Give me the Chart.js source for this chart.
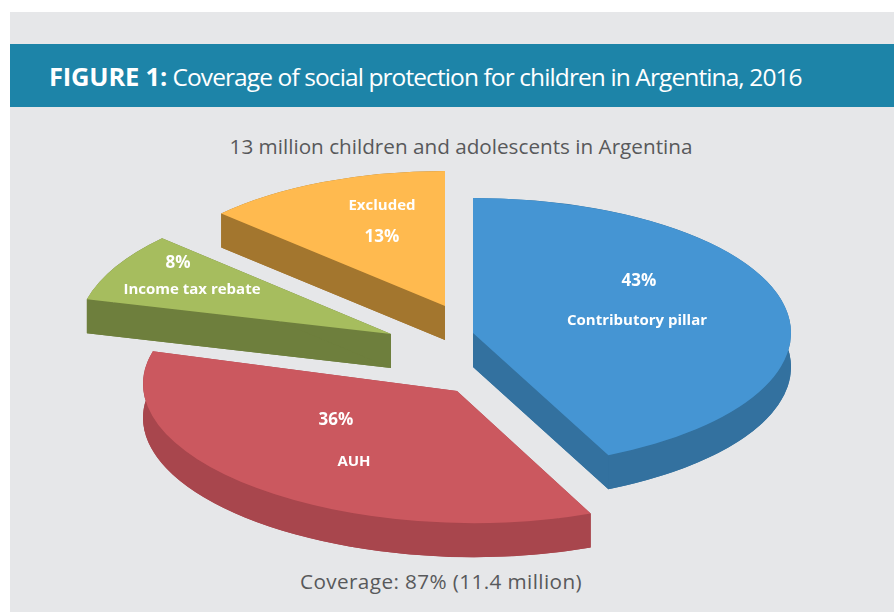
<!DOCTYPE html>
<html>
<head>
<meta charset="utf-8">
<title>Coverage of social protection for children in Argentina, 2016</title>
<script src="https://cdn.jsdelivr.net/npm/chart.js@4"></script>
<style>
  html, body { margin: 0; padding: 0; background: #fff; overflow: hidden; }
  #panel { position: absolute; left: 10px; top: 12px; width: 884px; height: 600px; background: #e6e7e9; }
  #band { position: absolute; left: 10px; top: 44px; width: 884px; height: 63px; background: #1d84a8; color: #fff;
    font: 24.5px "Open Sans", sans-serif; line-height: 65px; letter-spacing: -0.9px; white-space: nowrap; }
  #band span { position: absolute; left: 39px; top: 0; }
  #band b { font-weight: 700; font-size: 25.5px; letter-spacing: -0.2px; }
  .note { position: absolute; color: #58595b; font: 20.7px "Open Sans", sans-serif; white-space: nowrap; transform: translateX(-50%); }
  #canvasBox { position: absolute; left: 0; top: 0; width: 894px; height: 612px; }
</style>
</head>
<body>
<div id="panel"></div>
<div id="band"><span><b>FIGURE 1:</b> Coverage of social protection for children in Argentina, 2016</span></div>
<div class="note" style="left:461px;top:132px">13 million children and adolescents in Argentina</div>
<div class="note" style="left:441px;top:567px;letter-spacing:0.4px">Coverage: 87% (11.4 million)</div>
<div id="canvasBox"><canvas id="pie"></canvas></div>

<script>
const categories = ['Contributory pillar', 'AUH', 'Income tax rebate', 'Excluded'];
const shares = [43, 36, 8, 13];

const topColors = ['#4595d3', '#cb585f', '#a6bd5e', '#ffba4f'];
const wallColors = ['#33719f', '#a8464d', '#6e7f3d', '#a3762e'];

// the pie is tilted and pulled apart by hand, chart.js only knows the flat one
const depth = 34;
const apex = [[473, 333], [457, 391], [391, 334], [445, 306]];
const sliceSize = [[318, 135], [314, 132], [314, 140], [307, 135]];
const sliceSkew = [0, 0.023, 0, 0];

// where the two lines of each slice label go
const labelSpots = [
  { x: 637, pctX: 639, pctY: 281, nameY: 321 },
  { x: 354, pctX: 336, pctY: 420, nameY: 462 },
  { x: 192, pctX: 178, pctY: 263, nameY: 290 },
  { x: 382, pctX: 382, pctY: 237, nameY: 206 }
];

function tilt(ctx, arc, i) {
  const R = arc.outerRadius;
  ctx.translate(apex[i][0], apex[i][1]);
  ctx.transform(1, sliceSkew[i], 0, 1, 0, 0);
  ctx.scale(sliceSize[i][0] / R, sliceSize[i][1] / R);
  ctx.translate(-arc.x, -arc.y);
}

function drawWall(ctx, arc, i) {
  const { x, y, outerRadius: R, startAngle: a0, endAngle: a1 } = arc;
  const d = depth * R / sliceSize[i][1]; // depth in the flat pie's units
  const rim0 = [x + R * Math.cos(a0), y + R * Math.sin(a0)];
  const rim1 = [x + R * Math.cos(a1), y + R * Math.sin(a1)];
  const shapes = [
    p => { p.moveTo(x, y + d); p.arc(x, y + d, R, a0, a1); p.closePath(); },
    p => { p.arc(x, y, R, a0, a1); p.arc(x, y + d, R, a1, a0, true); p.closePath(); },
    p => { p.moveTo(x, y); p.lineTo(rim0[0], rim0[1]); p.lineTo(rim0[0], rim0[1] + d); p.lineTo(x, y + d); p.closePath(); },
    p => { p.moveTo(x, y); p.lineTo(rim1[0], rim1[1]); p.lineTo(rim1[0], rim1[1] + d); p.lineTo(x, y + d); p.closePath(); }
  ];
  ctx.fillStyle = wallColors[i];
  shapes.forEach(shape => {
    ctx.beginPath();
    shape(ctx);
    ctx.fill();
  });
}

const tiltedPie = {
  id: 'tiltedPie',
  beforeDatasetDraw(chart) {
    const ctx = chart.ctx;
    const arcs = chart.getDatasetMeta(0).data;
    // back to front so the walls stay under their own top
    [3, 2, 0, 1].forEach(i => {
      const arc = arcs[i];
      ctx.save();
      tilt(ctx, arc, i);
      drawWall(ctx, arc, i);
      arc.draw(ctx);
      ctx.restore();
    });
    return false;
  },
  afterDraw(chart) {
    const ctx = chart.ctx;
    ctx.save();
    ctx.fillStyle = '#fff';
    ctx.textAlign = 'center';
    ctx.textBaseline = 'middle';
    categories.forEach((name, i) => {
      const spot = labelSpots[i];
      ctx.font = 'bold 17px "Open Sans", sans-serif';
      ctx.fillText(shares[i] + '%', spot.pctX, spot.pctY);
      ctx.font = 'bold 15px "Open Sans", sans-serif';
      ctx.fillText(name, spot.x, spot.nameY);
    });
    ctx.restore();
  }
};

new Chart(document.getElementById('pie'), {
  type: 'pie',
  data: {
    labels: categories,
    datasets: [{ data: shares, backgroundColor: topColors, borderWidth: 0 }]
  },
  options: {
    responsive: true,
    maintainAspectRatio: false,
    animation: false,
    plugins: { legend: { display: false }, tooltip: { enabled: false } }
  },
  plugins: [tiltedPie]
});
</script>
</body>
</html>
